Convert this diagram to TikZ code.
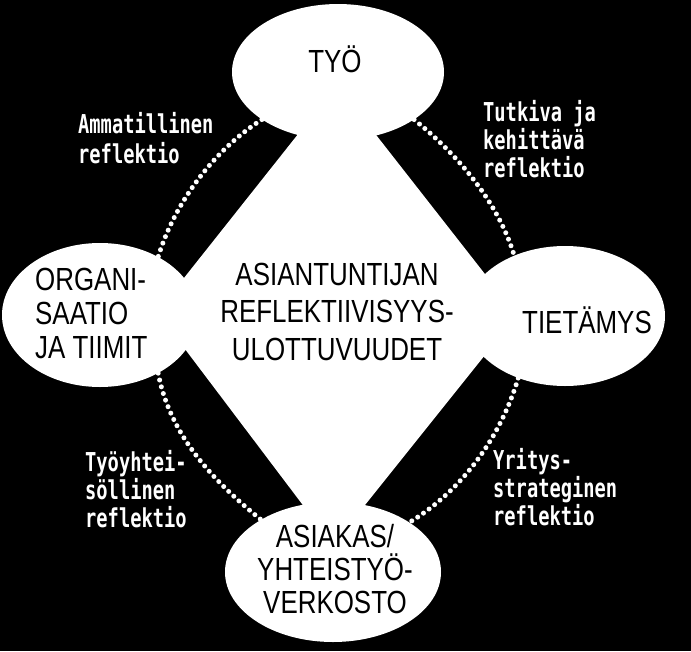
\documentclass[tikz,border=0pt]{standalone}
\usepackage{fontspec}
\usetikzlibrary{shapes.geometric}
\newfontfamily\capsfont{Liberation Sans}[FakeStretch=0.81]
\newfontfamily\labfont{DejaVu Sans Mono}[FakeStretch=0.72]
\begin{document}
\begin{tikzpicture}[x=1pt,y=-1pt,
  blob/.style={ellipse, fill=white, draw=none, inner sep=0pt},
  capstext/.style={font=\capsfont\fontsize{32}{37.5}\selectfont, text=black, inner sep=0pt},
  labtext/.style={font=\labfont\bfseries\fontsize{26}{28}\selectfont, text=white, align=left, anchor=base west, inner sep=0pt},
  dotline/.style={white, line width=5pt, line cap=round, dash pattern=on 0pt off 7pt}]
\fill[black] (0,0) rectangle (691,651);
\useasboundingbox (0,0) rectangle (691,651);
% central diamond
\coordinate (dtop) at (337,85);
\coordinate (dright) at (517,315);
\coordinate (dbot) at (333,545);
\coordinate (dleft) at (157,312);
\fill[white] (dtop) -- (dright) -- (dbot) -- (dleft) -- cycle;
% four ellipses
\node[blob, minimum width=212pt, minimum height=136pt] (tyo) at (338,72) {};
\node[blob, minimum width=196pt, minimum height=144pt] (org) at (100,315) {};
\node[blob, minimum width=200pt, minimum height=140pt] (tiet) at (565,316) {};
\node[blob, minimum width=216pt, minimum height=140pt] (asi) at (333,572) {};
% dotted arcs
\draw[dotline] (tyo.212) .. controls (214,150) and (175,202) .. (org.45);
\draw[dotline] (tyo.-32) .. controls (458,155) and (498,202) .. (tiet.130);
\draw[dotline] (org.-45) .. controls (170,435) and (212,480) .. (asi.144);
\draw[dotline] (tiet.233) .. controls (501,436) and (463,490) .. (asi.33);
% texts in shapes (base anchor = baseline of the last line)
\node[capstext, anchor=base] (tyot) at (335,72) {TYÖ};
\node[capstext, anchor=base west, align=left, font=\capsfont\fontsize{32}{34}\selectfont] (orgt) at (35,358) {ORGANI-\\SAATIO\\JA TIIMIT};
\node[capstext, anchor=base] (tiett) at (587,333) {TIETÄMYS};
\node[capstext, anchor=base, align=center, font=\capsfont\fontsize{32}{33}\selectfont] (asit) at (335,613) {ASIAKAS/\\YHTEISTYÖ-\\VERKOSTO};
\node[capstext, anchor=base, align=center] (cent) at (337,360) {ASIANTUNTIJAN\\REFLEKTIIVISYYS-\\ULOTTUVUUDET};
% labels
\node[labtext, font=\labfont\bfseries\fontsize{26}{30}\selectfont] (l1) at (78,163) {Ammatillinen\\reflektio};
\node[labtext] (l2) at (483,177) {Tutkiva ja\\kehittävä\\reflektio};
\node[labtext] (l3) at (85,527) {Työyhtei-\\söllinen\\reflektio};
\node[labtext] (l4) at (493,525) {Yritys-\\strateginen\\reflektio};
\end{tikzpicture}
\end{document}
